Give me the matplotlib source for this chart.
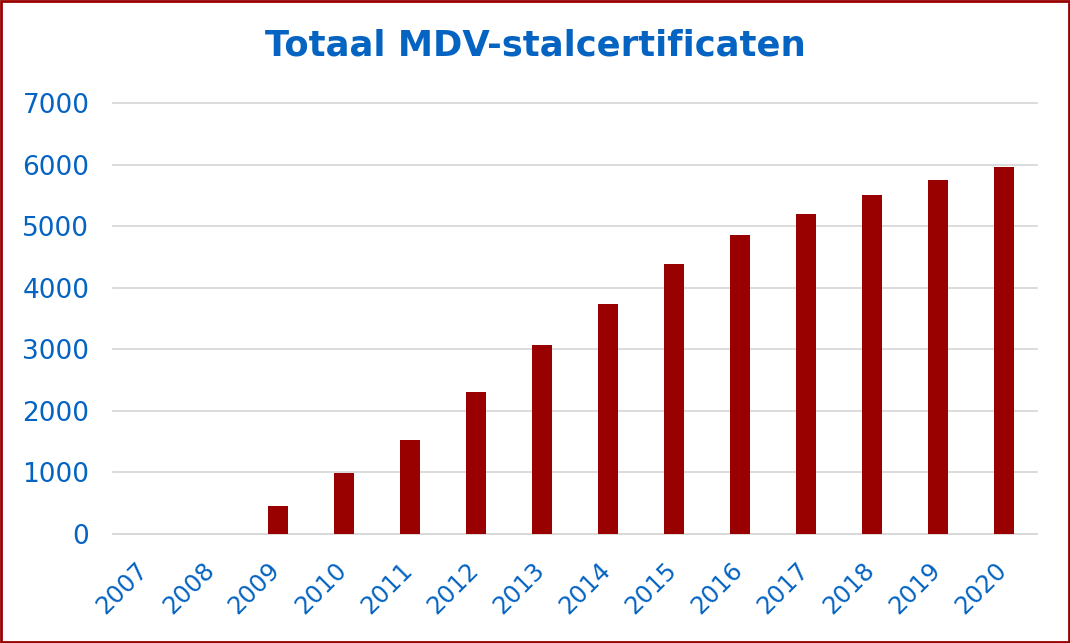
import numpy as np
import matplotlib.pyplot as plt
import matplotlib.transforms as mtransforms
from matplotlib.patches import Rectangle

# Aantal MDV-stalcertificaten per jaar
years = ['2007', '2008', '2009', '2010', '2011', '2012', '2013',
         '2014', '2015', '2016', '2017', '2018', '2019', '2020']
counts = [0, 0, 455, 985, 1525, 2305, 3070, 3740, 4390, 4860, 5195, 5500, 5755, 5965]

blue = '#0563C1'
red = '#990000'

fig = plt.figure(figsize=(10.70, 6.43), dpi=100)
ax = fig.add_axes([113 / 1070, 1 - 534 / 643, 924 / 1070, 431 / 643])

x = np.arange(len(years))
ax.bar(x, counts, width=0.31, color=red, zorder=3)

ax.set_xlim(-0.5, len(years) - 0.5)
ax.set_ylim(0, 7000)
ax.set_yticks(np.arange(0, 7001, 1000))
ax.set_xticks(x)
ax.set_xticklabels(years, rotation=45, ha='right', rotation_mode='anchor')
ax.tick_params(axis='both', length=0, labelcolor=blue)
ax.tick_params(axis='y', pad=17, labelsize=19)
ax.tick_params(axis='x', pad=12, labelsize=17.5)
ax.grid(axis='y', color='#D9D9D9', linewidth=1.3, zorder=0)
for line in ax.get_ygridlines():
    line.set_clip_on(False)
for side in ['top', 'right', 'left']:
    ax.spines[side].set_visible(False)
ax.spines['bottom'].set_color('#D9D9D9')
ax.spines['bottom'].set_linewidth(1.3)

# jaartallen iets naar links en omlaag schuiven
shift = mtransforms.ScaledTranslation(-10 / 100, -7 / 100, fig.dpi_scale_trans)
for lbl in ax.get_xticklabels():
    lbl.set_transform(lbl.get_transform() + shift)

fig.text(0.5, 1 - 45 / 643, 'Totaal MDV-stalcertificaten', ha='center', va='center',
         fontsize=25.5, fontweight='bold', color=blue)

# rand om de figuur
fig.patches.append(Rectangle((0.001, 0.0015), 0.998, 0.997, transform=fig.transFigure,
                             fill=False, edgecolor=red, linewidth=2))

fig.savefig('out.png', dpi=100)
